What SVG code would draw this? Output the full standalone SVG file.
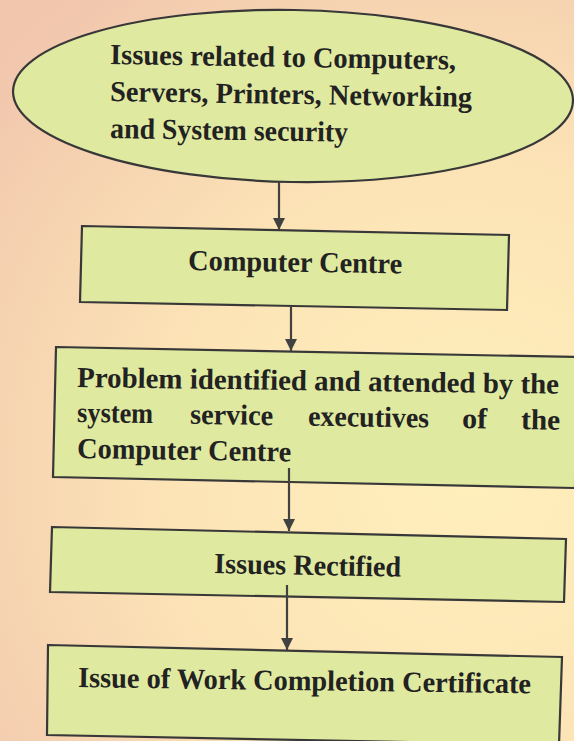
<svg xmlns="http://www.w3.org/2000/svg" width="574" height="741" viewBox="0 0 574 741">
  <defs>
    <radialGradient id="bg" cx="470" cy="470" r="620" gradientUnits="userSpaceOnUse">
      <stop offset="0" stop-color="#fff0bc"/>
      <stop offset="0.5" stop-color="#fce3b6"/>
      <stop offset="1" stop-color="#f1c6ad"/>
    </radialGradient>
    <marker id="arr" markerUnits="userSpaceOnUse" markerWidth="12" markerHeight="12" refX="12" refY="6" orient="auto">
      <path d="M0,0 L12,6 L0,12 z" fill="#414141"/>
    </marker>
  </defs>
  <style>
    .node { fill: #e0e9a0; stroke: #383838; stroke-width: 2.2; }
    .t { font-family: "Liberation Serif", "Times New Roman", serif; font-weight: bold; font-size: 29px; fill: #222; }
    .conn { stroke: #414141; stroke-width: 2.2; fill: none; marker-end: url(#arr); }
  </style>
  <rect x="0" y="0" width="574" height="741" fill="url(#bg)"/>

  <g id="n1">
    <ellipse class="node" cx="293" cy="96" rx="280" ry="86" transform="rotate(1 293 96)"/>
    <text class="t" x="110" y="64" textLength="346" lengthAdjust="spacingAndGlyphs" transform="rotate(0.9 110 64)">Issues related to Computers,</text>
    <text class="t" x="110" y="101" textLength="362" lengthAdjust="spacingAndGlyphs" transform="rotate(0.9 110 101)">Servers, Printers, Networking</text>
    <text class="t" x="110" y="138" textLength="238" lengthAdjust="spacingAndGlyphs" transform="rotate(0.9 110 138)">and System security</text>
  </g>

  <g id="n2">
    <polygon class="node" points="82,226 509,235 507,310 80,302"/>
    <text class="t" x="188" y="270" textLength="214" lengthAdjust="spacingAndGlyphs" transform="rotate(0.9 188 270)">Computer Centre</text>
  </g>

  <g id="n3">
    <polygon class="node" points="56,347 576,357 575,488 53,477"/>
    <text class="t" x="77" y="387" textLength="482" lengthAdjust="spacingAndGlyphs" transform="rotate(0.8 77 387)">Problem identified and attended by the</text>
    <g transform="rotate(0.9 77 422)">
      <text class="t" x="77" y="422" textLength="76" lengthAdjust="spacingAndGlyphs">system</text>
      <text class="t" x="190" y="422" textLength="83" lengthAdjust="spacingAndGlyphs">service</text>
      <text class="t" x="308" y="422" textLength="121" lengthAdjust="spacingAndGlyphs">executives</text>
      <text class="t" x="462" y="422" textLength="25" lengthAdjust="spacingAndGlyphs">of</text>
      <text class="t" x="521" y="422" textLength="39" lengthAdjust="spacingAndGlyphs">the</text>
    </g>
    <text class="t" x="77" y="458" textLength="214" lengthAdjust="spacingAndGlyphs" transform="rotate(0.9 77 458)">Computer Centre</text>
  </g>

  <g id="n4">
    <polygon class="node" points="52,527 566,539 564,602 50,592"/>
    <text class="t" x="214" y="573" textLength="187" lengthAdjust="spacingAndGlyphs" transform="rotate(1.1 214 573)">Issues Rectified</text>
  </g>

  <g id="n5">
    <polygon class="node" points="48,645 562,657 559,745 47,735"/>
    <text class="t" x="78" y="687" textLength="453" lengthAdjust="spacingAndGlyphs" transform="rotate(0.8 78 687)">Issue of Work Completion Certificate</text>
  </g>

  <g id="connectors">
    <line class="conn" x1="279" y1="182" x2="279" y2="230"/>
    <line class="conn" x1="291" y1="306" x2="291" y2="351"/>
    <line class="conn" x1="289" y1="468" x2="289" y2="531"/>
    <line class="conn" x1="287" y1="585" x2="287" y2="650"/>
  </g>
</svg>
